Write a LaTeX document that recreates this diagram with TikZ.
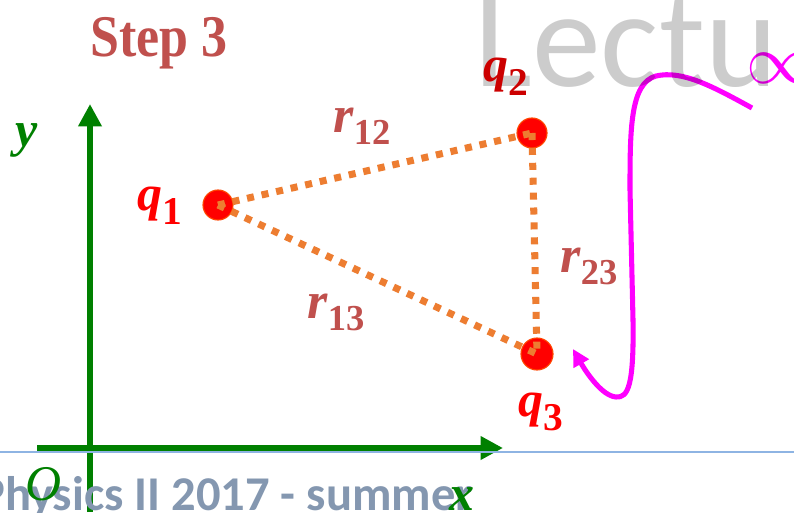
\documentclass[tikz,border=0pt]{standalone}
\usepackage{fontspec}
\usepackage{graphicx}
\setmainfont{Liberation Serif}
\newfontfamily\calibri{Carlito}
\usetikzlibrary{arrows.meta}
\definecolor{axisgreen}{RGB}{0,128,0}
\definecolor{steptitle}{RGB}{192,80,77}
\definecolor{distorange}{RGB}{237,125,49}
\definecolor{footgray}{RGB}{132,151,176}
\definecolor{slideblue}{RGB}{142,180,227}
\definecolor{chargered}{RGB}{255,0,0}
\definecolor{chargerim}{RGB}{255,70,0}
\definecolor{darkcharge}{RGB}{204,0,0}
\definecolor{hookpink}{RGB}{255,0,255}
\newcommand{\qsym}[1]{{\fontsize{35.5}{36}\selectfont\bfseries\itshape q\/}\raisebox{-10pt}{\fontsize{28}{28}\selectfont\bfseries #1}}
\newcommand{\rsym}[1]{{\fontsize{37}{37}\selectfont\bfseries\itshape r\/}\raisebox{-9pt}{\fontsize{26}{26}\selectfont\bfseries #1}}

\begin{document}
\begin{tikzpicture}[x=0.025cm, y=-0.025cm,
    charge/.style={circle, fill=chargered, draw=chargerim, line width=0.8pt,
                   minimum size=0.75cm, inner sep=0pt},
    qlabel/.style={anchor=base west, inner sep=0pt, text=chargered},
    rlabel/.style={anchor=base west, inner sep=0pt, text=steptitle},
    axlabel/.style={anchor=base west, inner sep=0pt, text=axisgreen,
                    font=\fontsize{35.5}{36}\selectfont\bfseries\itshape},
    dist/.style={draw=distorange, line width=5pt, dash pattern=on 5pt off 5.6pt},
    axis/.style={draw=axisgreen, line width=4.6pt, -{Triangle[length=16pt,width=16pt]}},
    hook/.style={draw=hookpink, line width=3.6pt, -{Triangle[length=12pt,width=12pt]}}
  ]
    \useasboundingbox (0,0) rectangle (794,512);
    \clip (0,0) rectangle (794,512);
    \fill[white] (0,0) rectangle (794,512);
    % axes
    \coordinate (ybot) at (90,512); \coordinate (ytip) at (90,104);
    \coordinate (xbeg) at (37,448); \coordinate (xtip) at (503,448);
    \draw[axis] (ybot) -- (ytip); \draw[axis] (xbeg) -- (xtip);
    \draw[slideblue, line width=1pt] (0,452) -- (794,452);
    \node[anchor=base east, inner sep=0pt, text=footgray,
          font=\calibri\bfseries\fontsize{34.5}{35}\selectfont] (footer) at (473,510) {Physics II 2017 - summer};
    \node[axlabel] (ylab) at (15,146) {y};
    \node[axlabel, font=\fontsize{35.5}{36}\selectfont\itshape] (olab) at (25,500) {O};
    \node[axlabel] (xlab) at (449,510) {x};
    \node[anchor=base west, inner sep=0pt, text=steptitle,
          font=\fontsize{42}{42}\selectfont\bfseries] (step) at (90,57) {\scalebox{0.88}[1]{Step 3}};
    % charges
    \node[charge] (q1) at (218,205) {};
    \node[charge] (q2) at (532,133) {};
    \node[charge, minimum size=0.8cm] (q3) at (537,354) {};
    \draw[dist] (q1.center) -- (q2.center);
    \draw[dist] (q1.center) -- (q3.center);
    \draw[dist] (q2.center) -- (q3.center);
    \node[qlabel] (lq1) at (137,210) {\qsym{1}};
    \node[qlabel] (lq3) at (518,416) {\qsym{3}};
    \node[rlabel] (lr12) at (333,132) {\rsym{12}};
    \node[rlabel] (lr13) at (307,318) {\rsym{13}};
    \node[rlabel] (lr23) at (560,272) {\rsym{23}};
    % path to infinity
    \coordinate (farend) at (752,108);
    \coordinate (nearq3) at (573,349);
    \draw[hook] (farend) .. controls (712,86) and (682,70) .. (656,76)
      .. controls (630,83) and (630,130) .. (630,190) -- (633,320)
      .. controls (634,386) and (628,398) .. (616,397)
      .. controls (602,396) and (586,372) .. (nearq3);
    \node[text=hookpink, inner sep=0pt, font=\fontsize{24}{24}\selectfont] (inf) at (781,68) {\scalebox{2}{$\infty$}};
    \node[anchor=base west, inner sep=0pt, text=black, text opacity=0.2,
          font=\calibri\fontsize{98}{98}\selectfont] (banner) at (474,87) {Lectu};
    \node[qlabel, text=darkcharge] (lq2) at (483,81) {\qsym{2}};
  \end{tikzpicture}
\end{document}
